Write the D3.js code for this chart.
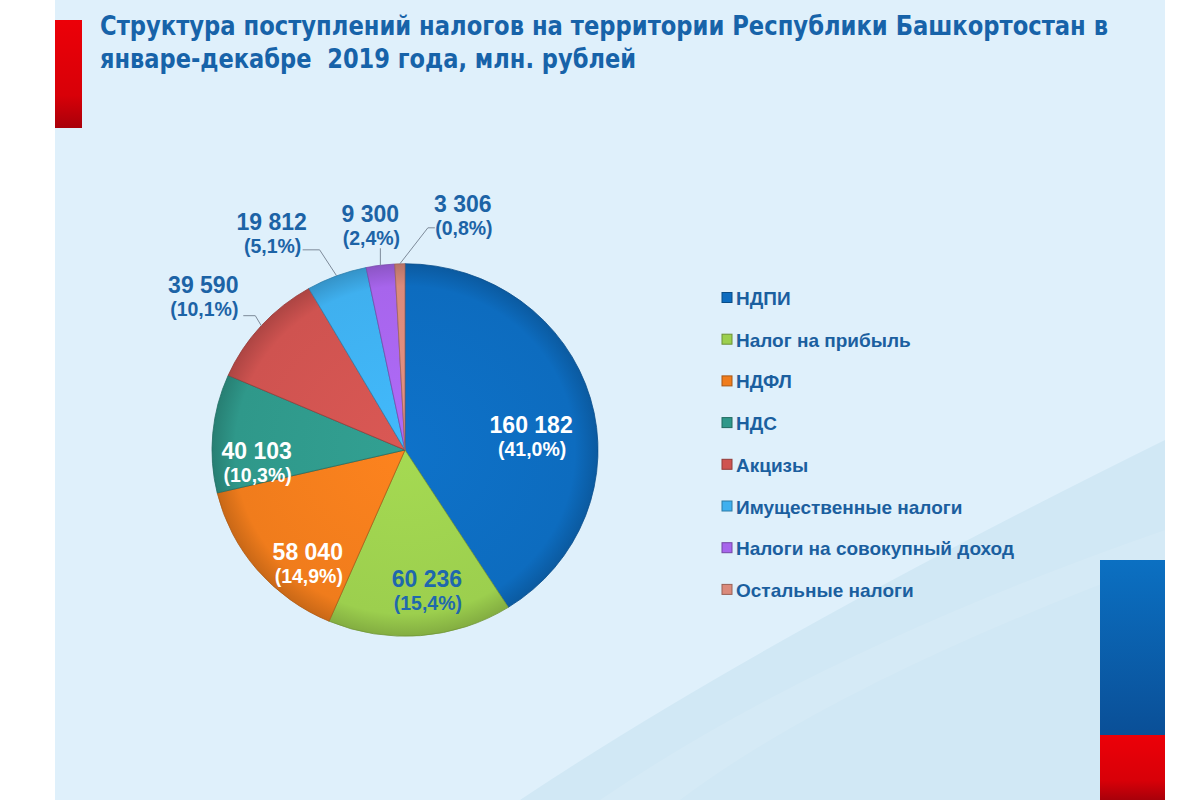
<!DOCTYPE html>
<html>
<head>
<meta charset="utf-8">
<script src="https://cdn.jsdelivr.net/npm/d3@7"></script>
<style>
  body { margin: 0; background: #fff; }
  svg { display: block; }
</style>
</head>
<body>
<div id="chart"></div>
<script>
// data
let categories = ['НДПИ', 'Налог на прибыль', 'НДФЛ', 'НДС', 'Акцизы',
                  'Имущественные налоги', 'Налоги на совокупный доход', 'Остальные налоги'];
let values = [160182, 60236, 58040, 40103, 39590, 19812, 9300, 3306];
let colors = ['#0d6cbf', '#9ccf4e', '#f07c1c', '#2f988a', '#cf5350', '#3fb0ef', '#a765ec', '#db8a7b'];
let titleLines = ['Структура поступлений налогов на территории Республики Башкортостан в',
                  'январе-декабре  2019 года, млн. рублей'];

// label placement (inside: nudge from centroid, outside: leader + text offsets from slice edge)
let labelLayout = [
  { type: 'in', nudge: [-16, 28], fill: '#fff' },
  { type: 'in', nudge: [10, 0], fill: '#1f68ad' },
  { type: 'in', nudge: [16, 23], fill: '#fff' },
  { type: 'in', nudge: [-1, 27], fill: '#fff' },
  { type: 'out', elbow: [-6, -10], end: [-18, -10], text: [-58, -33] },
  { type: 'out', elbow: [-17, -26], end: [-34, -26], text: [-65, -46] },
  { type: 'out', elbow: [0, -17], end: [0, -17], text: [-10, -43] },
  { type: 'out', elbow: [28, -36], end: [35, -36], text: [63, -52] }
];

let width = 1200, height = 800;
let cx = 405, cy = 450, radius = 193, squash = 0.965;

let locale = d3.formatLocale({ decimal: ',', thousands: '\u00a0', grouping: [3], currency: ['', ''] });
let fmtNum = locale.format(',d');
let fmtPct = locale.format('.1f');
let total = d3.sum(values);

let svg = d3.select('#chart').append('svg')
  .attr('width', width)
  .attr('height', height);

let defs = svg.append('defs');

// background panel
svg.append('rect')
  .attr('x', 55).attr('y', 0)
  .attr('width', 1110).attr('height', height)
  .attr('fill', '#dff0fb');

svg.append('path')
  .attr('d', 'M 520 800 Q 760 640 1165 440 L 1165 800 Z')
  .attr('fill', '#d1e8f5');
svg.append('path')
  .attr('d', 'M 600 800 Q 820 650 1165 530 L 1165 560 Q 840 680 680 800 Z')
  .attr('fill', '#ffffff').attr('opacity', 0.1);

// red bar top-left
let redGrad = defs.append('linearGradient').attr('id', 'redbar').attr('x1', 0).attr('y1', 0).attr('x2', 0).attr('y2', 1);
redGrad.append('stop').attr('offset', '0%').attr('stop-color', '#ec0008');
redGrad.append('stop').attr('offset', '70%').attr('stop-color', '#d80008');
redGrad.append('stop').attr('offset', '100%').attr('stop-color', '#a8000a');
svg.append('rect')
  .attr('x', 55).attr('y', 20).attr('width', 27).attr('height', 108)
  .attr('fill', 'url(#redbar)');

// flag bar bottom-right
let blueGrad = defs.append('linearGradient').attr('id', 'bluebar').attr('x1', 0).attr('y1', 0).attr('x2', 0).attr('y2', 1);
blueGrad.append('stop').attr('offset', '0%').attr('stop-color', '#0b70c2');
blueGrad.append('stop').attr('offset', '100%').attr('stop-color', '#0a4f97');
svg.append('rect')
  .attr('x', 1100).attr('y', 560).attr('width', 65).attr('height', 175)
  .attr('fill', 'url(#bluebar)');
svg.append('rect')
  .attr('x', 1100).attr('y', 735).attr('width', 65).attr('height', 65)
  .attr('fill', 'url(#redbar)');

// title
svg.append('g').selectAll('text')
  .data(titleLines)
  .enter().append('text')
    .attr('x', 100)
    .attr('y', (_, i) => 35 + i * 33)
    .attr('textLength', (_, i) => i === 0 ? 1008 : 536)
    .attr('lengthAdjust', 'spacingAndGlyphs')
    .style('font-family', '"DejaVu Sans Condensed", "DejaVu Sans", sans-serif')
    .style('font-weight', 'bold')
    .style('font-size', '26px')
    .style('fill', '#1763a9')
    .style('white-space', 'pre')
    .text(d => d);

// pie
let pie = d3.pie().sort(null).value(d => d);
let arcs = pie(values);
let arc = d3.arc().innerRadius(0).outerRadius(radius);
let labelArc = d3.arc().innerRadius(148).outerRadius(148);

colors.forEach((c, i) => {
  let g = defs.append('radialGradient')
    .attr('id', 'slice' + i)
    .attr('gradientUnits', 'userSpaceOnUse')
    .attr('cx', 0).attr('cy', 0).attr('r', radius);
  g.append('stop').attr('offset', '0%').attr('stop-color', d3.color(c).brighter(0.15));
  g.append('stop').attr('offset', '88%').attr('stop-color', c);
  g.append('stop').attr('offset', '100%').attr('stop-color', d3.color(c).darker(0.5));
});

let pieG = svg.append('g')
  .attr('transform', `translate(${cx},${cy}) scale(1,${squash})`);

pieG.selectAll('path')
  .data(arcs)
  .enter().append('path')
    .attr('d', arc)
    .attr('fill', (_, i) => `url(#slice${i})`)
    .attr('stroke', (_, i) => d3.color(colors[i]).darker(0.9))
    .attr('stroke-width', 0.8);

// labels
let labG = svg.append('g').attr('transform', `translate(${cx},${cy})`);

function edgePoint(d) {
  let a = (d.startAngle + d.endAngle) / 2;
  return [radius * Math.sin(a), -radius * Math.cos(a) * squash];
}

arcs.forEach((d, i) => {
  let lay = labelLayout[i];
  let pct = '(' + fmtPct(d.data / total * 100) + '%)';
  let x, y, fill;
  if (lay.type === 'in') {
    let c = labelArc.centroid(d);
    x = c[0] + lay.nudge[0];
    y = c[1] * squash + lay.nudge[1] - 5;
    fill = lay.fill;
  } else {
    let p = edgePoint(d);
    labG.append('polyline')
      .attr('points', [p, [p[0] + lay.elbow[0], p[1] + lay.elbow[1]], [p[0] + lay.end[0], p[1] + lay.end[1]]].map(q => q.join(',')).join(' '))
      .attr('fill', 'none')
      .attr('stroke', '#7d8a99')
      .attr('stroke-width', 1);
    x = p[0] + lay.text[0];
    y = p[1] + lay.text[1];
    fill = '#1c63a6';
  }
  let t = labG.append('text')
    .attr('text-anchor', 'middle')
    .style('font-family', '"Liberation Sans", Arial, sans-serif')
    .style('font-weight', 'bold')
    .style('fill', fill);
  t.append('tspan').attr('x', x).attr('y', y).style('font-size', '23px').text(fmtNum(d.data));
  t.append('tspan').attr('x', x + 1).attr('y', y + 23).style('font-size', '19.5px').text(pct);
});

// legend
let legend = svg.append('g').attr('transform', 'translate(722, 0)');
let rows = legend.selectAll('g')
  .data(categories)
  .enter().append('g')
    .attr('transform', (_, i) => `translate(0, ${298 + i * 41.7})`);

rows.append('rect')
  .attr('x', 0).attr('y', -5.5)
  .attr('width', 10).attr('height', 10)
  .attr('fill', (_, i) => colors[i])
  .attr('stroke', (_, i) => d3.color(colors[i]).darker(1))
  .attr('stroke-width', 1);

rows.append('text')
  .attr('x', 14)
  .attr('y', 7)
  .style('font-family', '"Liberation Sans", Arial, sans-serif')
  .style('font-weight', 'bold')
  .style('font-size', '19px')
  .style('fill', '#1b5f9f')
  .text(d => d);
</script>
</body>
</html>
